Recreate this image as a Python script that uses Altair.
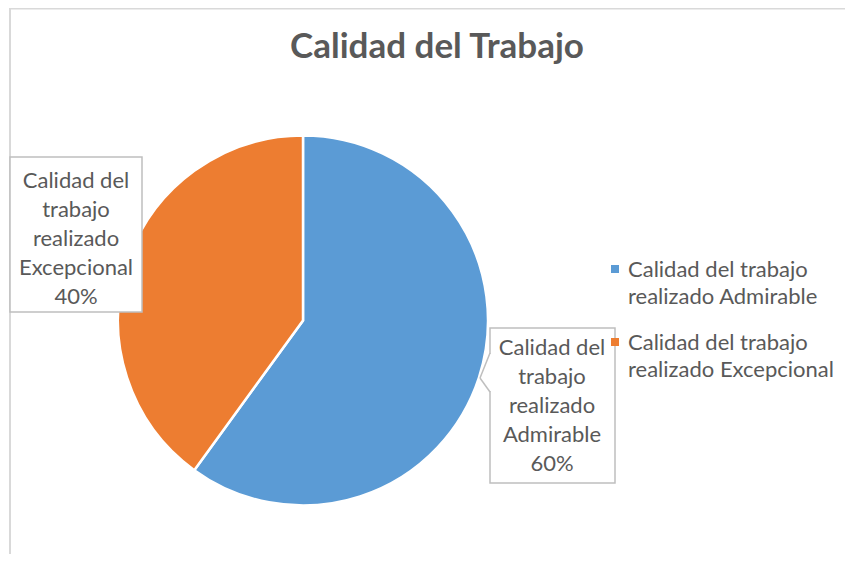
import altair as alt
import pandas as pd

categories = ["Calidad del trabajo realizado Admirable",
              "Calidad del trabajo realizado Excepcional"]
values = [60, 40]
colors = ["#5B9BD5", "#ED7D31"]
title_text = "Calidad del Trabajo"

df = pd.DataFrame({"cat": categories, "val": values, "idx": list(range(len(categories)))})
base = alt.Chart(df)

TXT = "#595959"
FONT = "Lato"
color_scale = alt.Scale(domain=categories, range=colors)

# chart border
border_top = alt.Chart(pd.DataFrame({"a": [0]})).mark_rule(color="#d9d9d9", strokeWidth=2).encode(
    x=alt.value(2), x2=alt.value(837), y=alt.value(0.5))
border_left = alt.Chart(pd.DataFrame({"a": [0]})).mark_rule(color="#d9d9d9", strokeWidth=2).encode(
    x=alt.value(2), y=alt.value(0), y2=alt.value(546))

pie = base.mark_arc(radius=185, stroke="white", strokeWidth=2.5).encode(
    theta=alt.Theta("val:Q", stack=True),
    color=alt.Color("cat:N", scale=color_scale, legend=None),
    order=alt.Order("idx:Q"),
    x=alt.value(295), y=alt.value(312.5),
)

title = alt.Chart(pd.DataFrame({"t": [title_text]})).mark_text(
    font=FONT, fontSize=35, fontWeight="bold", color=TXT, baseline="alphabetic", align="center"
).encode(text="t:N", x=alt.value(429), y=alt.value(50))

# label boxes
box_style = dict(fill="white", stroke="#bfbfbf", strokeWidth=1.5)
dummy = pd.DataFrame({"a": [0]})
box_left = alt.Chart(dummy).mark_rect(**box_style).encode(
    x=alt.value(2), x2=alt.value(134), y=alt.value(149), y2=alt.value(304))
box_right = alt.Chart(dummy).mark_rect(**box_style).encode(
    x=alt.value(482), x2=alt.value(607), y=alt.value(320), y2=alt.value(475))
ptr_cover = alt.Chart(dummy).mark_rule(color="white", strokeWidth=3).encode(
    x=alt.value(482), y=alt.value(346), y2=alt.value(383))
ptr1 = alt.Chart(dummy).mark_rule(color="#bfbfbf", strokeWidth=1.5).encode(
    x=alt.value(482), x2=alt.value(472), y=alt.value(345), y2=alt.value(370))
ptr2 = alt.Chart(dummy).mark_rule(color="#bfbfbf", strokeWidth=1.5).encode(
    x=alt.value(472), x2=alt.value(482), y=alt.value(370), y2=alt.value(384))

label_calc = (
    "replace(replace(datum.cat, 'del ', 'del\\n'), ' realizado ', '\\nrealizado\\n')"
    " + '\\n' + datum.val + '%'"
)
lab_style = dict(font=FONT, fontSize=22, color=TXT, lineBreak="\n", lineHeight=29,
                 align="center", baseline="middle")
lab_right = base.transform_filter(alt.datum.idx == 0).transform_calculate(
    lab=label_calc).mark_text(**lab_style).encode(
    text="lab:N", x=alt.value(544), y=alt.value(340))
lab_left = base.transform_filter(alt.datum.idx == 1).transform_calculate(
    lab=label_calc).mark_text(**lab_style).encode(
    text="lab:N", x=alt.value(68), y=alt.value(173))

# legend
ypos = alt.Y("cat:N", scale=alt.Scale(domain=categories, range=[261, 334], padding=0), axis=None)
leg_sq = base.mark_square(size=64, opacity=1).encode(
    x=alt.value(607), y=ypos,
    color=alt.Color("cat:N", scale=color_scale, legend=None))
leg_txt = base.transform_calculate(
    lab="replace(datum.cat, ' realizado', '\\nrealizado')").mark_text(
    font=FONT, fontSize=22, color=TXT, lineBreak="\n", lineHeight=27,
    align="left", baseline="middle", dy=1).encode(
    x=alt.value(620), y=ypos, text="lab:N")

chart = alt.layer(
    border_top, border_left, pie, title, box_left, box_right, ptr_cover, ptr1, ptr2,
    lab_right, lab_left, leg_sq, leg_txt
).properties(
    width=837, height=546,
    autosize=alt.AutoSizeParams(type="none"), padding=0,
).configure_view(stroke=None)

chart.save("out.html", embed_options={"renderer": "svg", "actions": False})
